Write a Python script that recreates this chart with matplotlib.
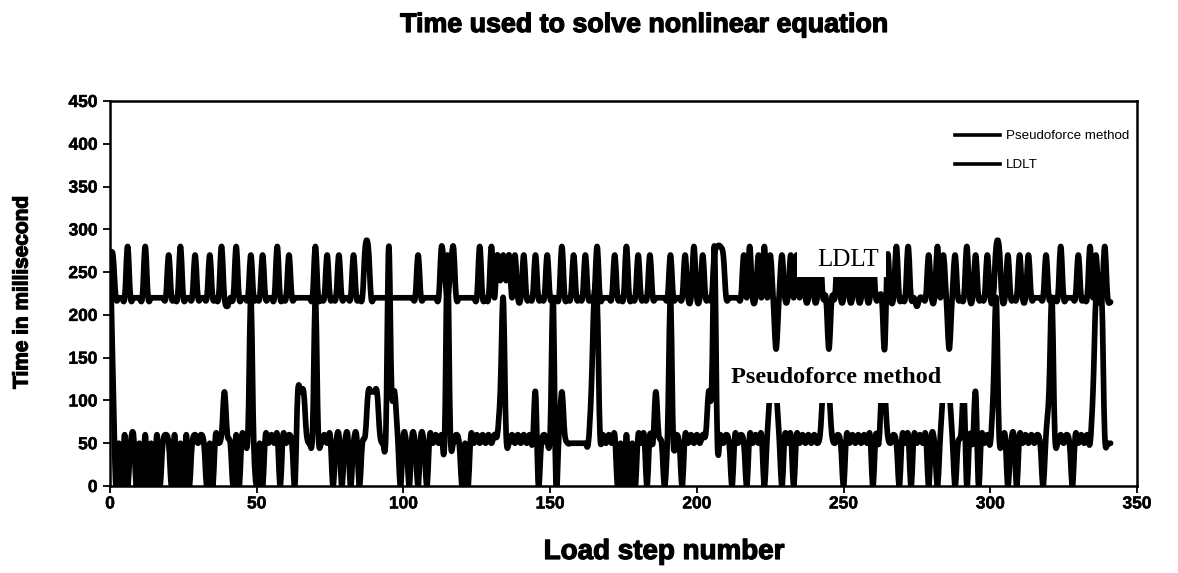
import numpy as np
import matplotlib
matplotlib.use("Agg")
import matplotlib.pyplot as plt
import matplotlib.patheffects as pe
from matplotlib.path import Path
from matplotlib.patches import PathPatch, Rectangle
from matplotlib.lines import Line2D

# Time (ms) per load step, Pseudoforce method
pseudoforce_ms = [
    270, 130, 0, 50, 0, 60, 0, 50, 60, 0,          # 0-9
    50, 0, 60, 0, 50, 0, 60, 0, 50, 60,            # 10-19
    50, 0, 60, 0, 50, 0, 60, 0, 50, 60,            # 20-29
    50, 60, 50, 0, 50, 0, 60, 50, 60, 110,         # 30-39
    60, 50, 0, 60, 0, 60, 50, 60, 220, 50,         # 40-49
    0, 50, 0, 60, 50, 60, 50, 60, 0, 60,           # 50-59
    50, 60, 50, 0, 110, 110, 110, 60, 50, 60,      # 60-69
    220, 60, 50, 60, 50, 60, 0, 50, 60, 0,         # 70-79
    50, 60, 0, 50, 60, 0, 50, 60, 110, 110,        # 80-89
    110, 110, 60, 50, 60, 280, 110, 110, 60, 0,    # 90-99
    60, 50, 0, 60, 50, 0, 60, 50, 0, 60,           # 100-109
    50, 60, 50, 60, 50, 270, 60, 50, 60, 50,       # 110-119
    0, 50, 0, 60, 50, 60, 50, 60, 50, 60,          # 120-129
    50, 60, 60, 110, 220, 60, 50, 60, 50, 60,      # 130-139
    50, 60, 50, 60, 50, 110, 0, 50, 60, 50,        # 140-149
    60, 220, 0, 60, 110, 60, 50, 50, 50, 50,       # 150-159
    50, 50, 50, 50, 110, 220, 220, 60, 60, 50,     # 160-169
    60, 50, 60, 0, 50, 0, 60, 0, 50, 0,            # 170-179
    60, 50, 60, 0, 60, 50, 110, 60, 50, 0,         # 180-189
    60, 220, 50, 60, 50, 0, 60, 50, 60, 50,        # 190-199
    60, 50, 60, 60, 110, 110, 280, 50, 60, 50,     # 200-209
    60, 50, 0, 60, 50, 60, 50, 0, 60, 50,          # 210-219
    60, 50, 60, 0, 60, 110, 110, 110, 60, 0,       # 220-229
    60, 50, 60, 0, 60, 50, 60, 50, 60, 50,         # 230-239
    60, 50, 60, 110, 110, 110, 60, 50, 60, 50,     # 240-249
    0, 60, 50, 60, 50, 60, 50, 60, 50, 60,         # 250-259
    0, 60, 50, 110, 110, 60, 50, 60, 50, 0,        # 260-269
    60, 50, 60, 0, 60, 50, 60, 50, 60, 0,          # 270-279
    60, 50, 0, 60, 110, 110, 110, 60, 0, 50,       # 280-289
    60, 110, 0, 60, 50, 110, 0, 60, 50, 60,        # 290-299
    50, 110, 220, 60, 50, 60, 0, 50, 60, 0,        # 300-309
    60, 50, 60, 50, 60, 50, 60, 50, 0, 60,         # 310-319
    110, 220, 60, 50, 60, 50, 60, 50, 0, 60,       # 320-329
    50, 60, 50, 60, 50, 110, 220, 220, 220, 60,    # 330-339
    50, 50,                                        # 340-341
]

# Time (ms) per load step, LDLT factorisation
ldlt_ms = [
    270, 270, 220, 220, 220, 220, 280, 220, 220, 220,   # 0-9
    220, 220, 280, 220, 220, 220, 220, 220, 220, 220,   # 10-19
    270, 220, 220, 220, 280, 220, 220, 220, 220, 270,   # 20-29
    220, 220, 220, 220, 270, 220, 220, 220, 280, 220,   # 30-39
    210, 220, 220, 280, 220, 220, 220, 220, 270, 220,   # 40-49
    220, 220, 270, 220, 220, 220, 220, 280, 220, 220,   # 50-59
    220, 270, 220, 220, 220, 220, 220, 220, 220, 220,   # 60-69
    280, 220, 220, 220, 270, 220, 220, 220, 270, 220,   # 70-79
    220, 220, 220, 270, 220, 220, 220, 280, 280, 220,   # 80-89
    220, 220, 220, 220, 220, 220, 220, 220, 220, 220,   # 90-99
    220, 220, 220, 220, 220, 270, 220, 220, 220, 220,   # 100-109
    220, 220, 220, 280, 250, 220, 250, 280, 220, 220,   # 110-119
    220, 220, 220, 220, 220, 220, 280, 220, 220, 220,   # 120-129
    280, 220, 270, 240, 270, 240, 270, 220, 270, 220,   # 130-139
    220, 270, 220, 220, 220, 270, 220, 220, 220, 270,   # 140-149
    220, 220, 220, 220, 280, 220, 220, 220, 270, 220,   # 150-159
    220, 220, 270, 220, 220, 220, 280, 220, 220, 220,   # 160-169
    220, 220, 270, 220, 220, 220, 280, 220, 220, 220,   # 170-179
    270, 220, 220, 220, 270, 220, 220, 220, 220, 220,   # 180-189
    220, 270, 220, 220, 220, 220, 270, 220, 220, 280,   # 190-199
    220, 220, 270, 220, 220, 220, 270, 280, 280, 270,   # 200-209
    220, 220, 220, 220, 220, 220, 270, 220, 280, 220,   # 210-219
    220, 270, 220, 280, 220, 270, 220, 160, 220, 270,   # 220-229
    220, 220, 270, 220, 270, 220, 270, 220, 220, 270,   # 230-239
    220, 220, 270, 220, 220, 160, 220, 220, 270, 220,   # 240-249
    220, 270, 220, 220, 270, 220, 220, 270, 220, 220,   # 250-259
    270, 220, 220, 220, 160, 270, 220, 220, 280, 220,   # 260-269
    220, 220, 280, 220, 220, 210, 220, 220, 220, 270,   # 270-279
    220, 220, 280, 220, 270, 220, 160, 220, 270, 220,   # 280-289
    220, 220, 280, 220, 220, 270, 220, 220, 220, 270,   # 290-299
    220, 220, 280, 280, 220, 220, 270, 220, 220, 220,   # 300-309
    270, 220, 220, 270, 220, 220, 220, 220, 220, 270,   # 310-319
    220, 220, 220, 220, 280, 220, 220, 220, 220, 220,   # 320-329
    270, 220, 220, 220, 280, 220, 270, 220, 220, 280,   # 330-339
    220, 215,                                           # 340-341
]

series_names = ["Pseudoforce method", "LDLT"]
x_ticks = [0, 50, 100, 150, 200, 250, 300, 350]
y_ticks = [0, 50, 100, 150, 200, 250, 300, 350, 400, 450]


def smoothed_path(values):
    """Cubic Bezier path through every point (Catmull-Rom tangents)."""
    y = np.asarray(values, dtype=float)
    x = np.arange(len(y), dtype=float)
    n = len(y)
    verts = [(x[0], y[0])]
    codes = [Path.MOVETO]
    for i in range(n - 1):
        y_prev = y[i - 1] if i > 0 else y[i]
        y_next2 = y[i + 2] if i + 2 < n else y[i + 1]
        c1 = (x[i] + 1.0 / 3.0, y[i] + (y[i + 1] - y_prev) / 6.0)
        c2 = (x[i + 1] - 1.0 / 3.0, y[i + 1] - (y_next2 - y[i]) / 6.0)
        verts += [c1, c2, (x[i + 1], y[i + 1])]
        codes += [Path.CURVE4, Path.CURVE4, Path.CURVE4]
    return Path(verts, codes)


W, H = 1178, 573
fig = plt.figure(figsize=(W / 100, H / 100), dpi=100)
ax = fig.add_axes([110 / W, 1 - 486 / H, (1137 - 110) / W, (486 - 101) / H])

heavy = [pe.withStroke(linewidth=0.9, foreground="black")]
semi = [pe.withStroke(linewidth=0.35, foreground="black")]

line_w = 4.1
for values in (pseudoforce_ms, ldlt_ms):
    ax.add_patch(PathPatch(smoothed_path(values), fill=False, edgecolor="black",
                           lw=line_w, joinstyle="round", capstyle="round", zorder=2))

# white boxes behind the in-plot labels
ax.add_patch(Rectangle((234, 244), 30.5, 56, facecolor="white", edgecolor="none", zorder=3))
ax.add_patch(Rectangle((208.2, 97), 84.5, 55, facecolor="white", edgecolor="none", zorder=3))
ax.text(251.5, 264, "LDLT", family="Liberation Serif", fontsize=18,
        ha="center", va="center", zorder=4)
ax.text(247.5, 127, "Pseudoforce method", family="Liberation Serif", fontsize=17.5,
        fontweight="bold", ha="center", va="center", zorder=4)

ax.set_xlim(0, 350)
ax.set_ylim(0, 450)
ax.set_xticks(x_ticks)
ax.set_yticks(y_ticks)
for sp in ax.spines.values():
    sp.set_linewidth(1.8)
    sp.set_color("black")
ax.tick_params(direction="out", length=5, width=1.3, labelsize=12.5)
ax.tick_params(axis="x", pad=2.5)
ax.tick_params(axis="y", pad=4)
for lab in ax.get_xticklabels() + ax.get_yticklabels():
    lab.set_fontfamily("Liberation Sans")
    lab.set_fontweight("bold")
    lab.set_path_effects(semi)

handles = [Line2D([], [], color="black", lw=2.6) for _ in series_names]
leg = ax.legend(handles, series_names, loc="upper left",
                bbox_to_anchor=((955 - 110) / 1027, (486 - 130) / 385),
                frameon=False, borderpad=0, borderaxespad=0,
                handlelength=3.4, handletextpad=0.4, labelspacing=1.25,
                prop={"family": "Liberation Sans", "size": 9.6})

fig.text(643 / W, 1 - 25 / H, "Time used to solve nonlinear equation",
         family="Liberation Sans", fontweight="bold", fontsize=19.3,
         ha="center", va="center", path_effects=heavy)
fig.text(22 / W, 1 - 292 / H, "Time in millisecond", family="Liberation Sans",
         fontweight="bold", fontsize=15, rotation=90, ha="center", va="center",
         path_effects=heavy)
fig.text(664 / W, 1 - 552 / H, "Load step number", family="Liberation Sans",
         fontweight="bold", fontsize=20, ha="center", va="center",
         path_effects=heavy)

fig.savefig("out.png", dpi=100, facecolor="white")
